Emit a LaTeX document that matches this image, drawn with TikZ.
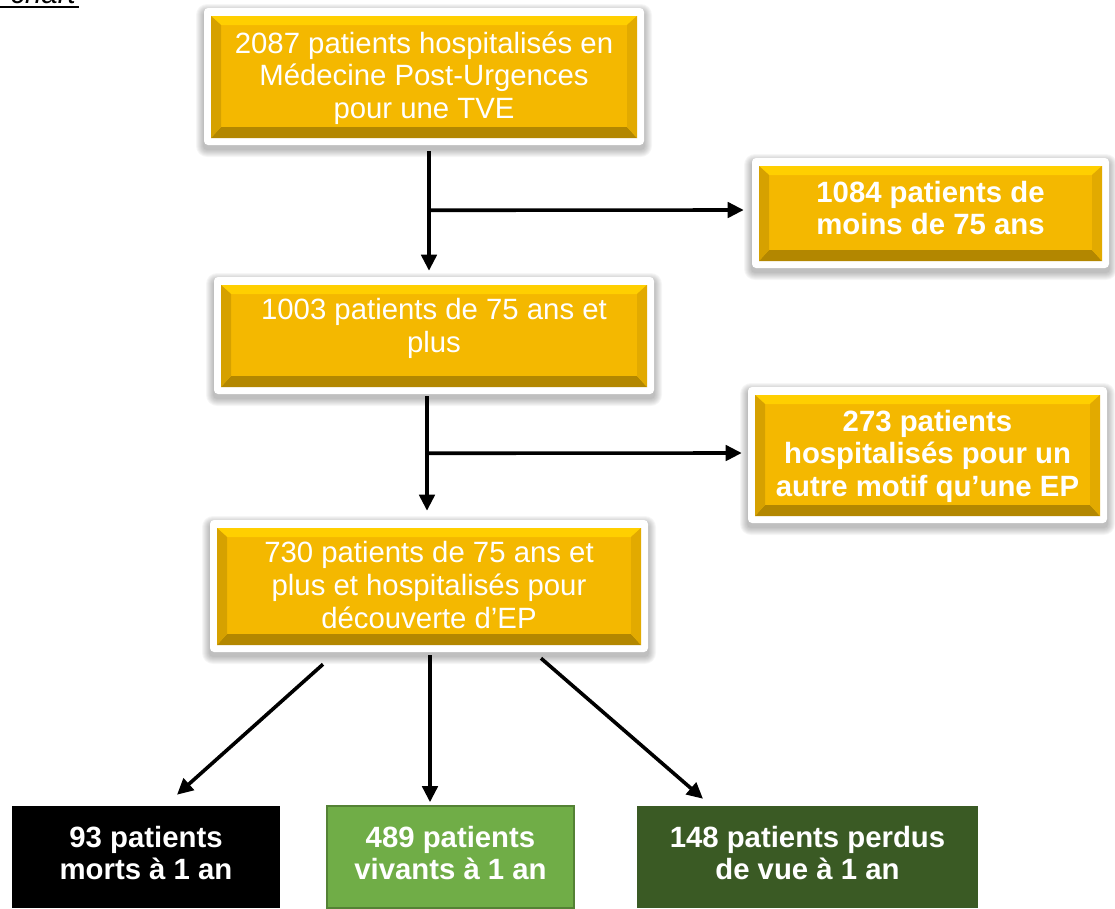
\documentclass[tikz,border=0pt]{standalone}
\usepackage{fontspec}
\setmainfont{Liberation Sans}
\usetikzlibrary{arrows.meta,calc}
\definecolor{goldC}{HTML}{F4B800}
\definecolor{goldT}{HTML}{FFCF00}
\definecolor{goldL}{HTML}{D6A100}
\definecolor{goldR}{HTML}{E2AA00}
\definecolor{goldB}{HTML}{B38700}
\definecolor{vivGreen}{HTML}{70AD47}
\definecolor{vivEdge}{HTML}{548235}
\definecolor{lostGreen}{HTML}{3A5A24}
\tikzset{
  arr/.style={line width=2.7pt,-{Triangle[length=12pt,width=11.5pt]}},
  boxtxt/.style={text=white,align=center,inner sep=0pt,font=\fontsize{22}{24.4}\selectfont},
  boxbold/.style={boxtxt,font=\bfseries\fontsize{22}{24.4}\selectfont},
  boxslot/.style={inner sep=0pt,draw=none},
}
\newcommand{\bevbox}[5]{%
  \foreach \s in {1,...,8}{\fill[black,opacity=0.035,rounded corners={(3+\s)*0.75pt}] ({#2-\s},{#3-\s+4}) rectangle ({#4+\s},{#5+\s+4});}
  \fill[white,rounded corners=3pt] (#2,#3) rectangle (#4,#5);
  \pgfmathsetmacro\bvL{#2+7}\pgfmathsetmacro\bvT{#3+8}%
  \pgfmathsetmacro\bvR{#4-7}\pgfmathsetmacro\bvB{#5-7}%
  \pgfmathsetmacro\bvl{\bvL+10}\pgfmathsetmacro\bvt{\bvT+9}%
  \pgfmathsetmacro\bvr{\bvR-10}\pgfmathsetmacro\bvb{\bvB-11}%
  \fill[goldC] (\bvL,\bvT) rectangle (\bvR,\bvB);
  \fill[goldT] (\bvL,\bvT) -- (\bvR,\bvT) -- (\bvr,\bvt) -- (\bvl,\bvt) -- cycle;
  \fill[goldB] (\bvL,\bvB) -- (\bvR,\bvB) -- (\bvr,\bvb) -- (\bvl,\bvb) -- cycle;
  \fill[goldL] (\bvL,\bvT) -- (\bvl,\bvt) -- (\bvl,\bvb) -- (\bvL,\bvB) -- cycle;
  \fill[goldR] (\bvR,\bvT) -- (\bvr,\bvt) -- (\bvr,\bvb) -- (\bvR,\bvB) -- cycle;
  \node[boxslot,minimum width={(#4-#2)*0.75pt},minimum height={(#5-#3)*0.75pt}] (#1) at ({(#2+#4)/2},{(#3+#5)/2}) {};
}
\begin{document}
\begin{tikzpicture}[x=0.75pt,y=-0.75pt]
\useasboundingbox (0,0) rectangle (1115,908);

% title fragment (cut by the top edge, as in the reference)
\node[anchor=base east,inner sep=0pt,font=\itshape\fontsize{22}{24}\selectfont] (chart) at (76,3) {chart};
\draw[line width=1.6pt] (0,7) -- (79,7);

% bevelled boxes
\bevbox{n1}{204}{8}{644}{145}
\bevbox{n3}{752}{158}{1109}{268}
\bevbox{n2}{214}{277}{654}{394}
\bevbox{n4}{748}{387}{1107}{523}
\bevbox{n5}{210}{520}{648}{652}

\node[boxtxt] (t1) at (424,78) {2087 patients hospitalisés en\\Médecine Post-Urgences\\pour une TVE};
\node[boxbold] (t3) at (930.5,208) {1084 patients de\\moins de 75 ans};
\node[boxtxt] (t2) at (434,328.5) {1003 patients de 75 ans et\\plus};
\node[boxbold] (t4) at (927.5,456) {273 patients\\hospitalisés pour un\\autre motif qu’une EP};
\node[boxtxt] (t5) at (429,585) {730 patients de 75 ans et\\plus et hospitalisés pour\\découverte d’EP};

% bottom boxes
\node[boxslot,fill=black,minimum width=268*0.75pt,minimum height=102*0.75pt] (n6) at (146,857) {};
\node[boxslot,fill=vivGreen,draw=vivEdge,line width=1.2pt,minimum width=247*0.75pt,minimum height=102*0.75pt] (n7) at (450.5,857) {};
\node[boxslot,fill=lostGreen,minimum width=341*0.75pt,minimum height=102*0.75pt] (n8) at (807.5,857) {};
\node[boxbold] (t6) at (146,853) {93 patients\\morts à 1 an};
\node[boxbold] (t7) at (450.5,853) {489 patients\\vivants à 1 an};
\node[boxbold] (t8) at (807.5,853) {148 patients perdus\\de vue à 1 an};

% connectors
\draw[arr] ([shift={(5,6)}]n1.south) -- ([shift={(-5,-6)}]n2.north);
\draw[arr] ($(n1.south)+(5,65)$) -- ([shift={(-8,-3)}]n3.west);
\draw[arr] ([shift={(-7,2)}]n2.south) -- ([shift={(-2,-9)}]n5.north);
\draw[arr] ($(n2.south)+(-7,59)$) -- ([shift={(-6,-2)}]n4.west);
\draw[arr] ([shift={(-106,12)}]n5.south) -- ([shift={(31,-11)}]n6.north);
\draw[arr] ([shift={(1,3)}]n5.south) -- ([shift={(-20.5,-3)}]n7.north);
\draw[arr] ([shift={(112,6)}]n5.south) -- ([shift={(-104.5,-7)}]n8.north);
\end{tikzpicture}
\end{document}
